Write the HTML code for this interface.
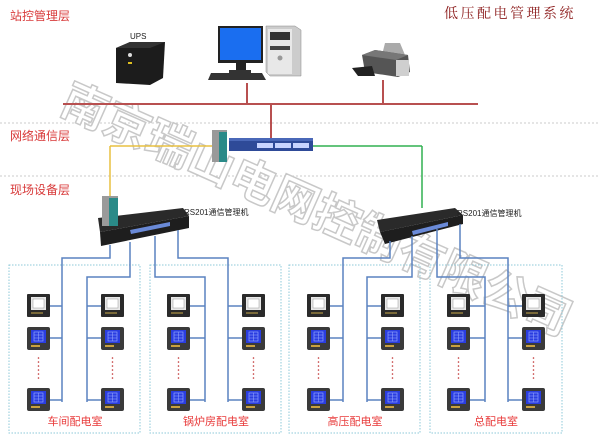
<!DOCTYPE html>
<html><head><meta charset="utf-8"><style>
html,body{margin:0;padding:0;background:#fff;}
svg{display:block;}
text{font-family:"Liberation Sans","Noto Sans CJK SC",sans-serif;}
</style></head><body>
<svg width="600" height="443" viewBox="0 0 600 443" xmlns="http://www.w3.org/2000/svg">
<defs>
<g id="m1">
  <rect x="0" y="0" width="23" height="23" rx="1" fill="#2a2a2a"/>
  <rect x="4" y="3" width="15" height="13" fill="#e8e8e8"/>
  <rect x="6" y="5" width="11" height="9" fill="#fff" stroke="#999" stroke-width="0.5"/>
  <rect x="4" y="18" width="12" height="2" fill="#7a6a3a"/>
</g>
<g id="m2">
  <rect x="0" y="0" width="23" height="23" rx="2" fill="#3a3a3a"/>
  <rect x="4" y="3" width="15" height="13" fill="#2a3de0"/>
  <rect x="7" y="5" width="9" height="9" fill="none" stroke="#9fb0ff" stroke-width="0.6"/>
  <line x1="11.5" y1="5" x2="11.5" y2="14" stroke="#9fb0ff" stroke-width="0.5"/>
  <line x1="7" y1="8" x2="16" y2="8" stroke="#9fb0ff" stroke-width="0.5"/>
  <line x1="7" y1="11" x2="16" y2="11" stroke="#9fb0ff" stroke-width="0.5"/>
  <rect x="4" y="18" width="9" height="2" fill="#c8a040"/>
</g>
<g id="dots" fill="#c03030">
  <circle cx="0" cy="0" r="0.8"/><circle cx="0" cy="4" r="0.8"/><circle cx="0" cy="8" r="0.8"/><circle cx="0" cy="12" r="0.8"/><circle cx="0" cy="16" r="0.8"/><circle cx="0" cy="20" r="0.8"/>
</g>
<g id="col">
  <use href="#m1" x="0" y="0"/>
  <use href="#m2" x="0" y="33"/>
  <use href="#dots" x="11.5" y="64"/>
  <use href="#m2" x="0" y="94"/>
</g>
</defs>

<!-- layer separators -->
<line x1="0" y1="123" x2="600" y2="123" stroke="#bbb" stroke-width="0.8" stroke-dasharray="2,2"/>
<line x1="0" y1="176" x2="600" y2="176" stroke="#bbb" stroke-width="0.8" stroke-dasharray="2,2"/>

<text x="10" y="20" font-size="12" fill="#d83a3a">站控管理层</text>
<text x="10" y="140" font-size="12" fill="#d83a3a">网络通信层</text>
<text x="10" y="194" font-size="12" fill="#d83a3a">现场设备层</text>
<text x="444" y="18" font-size="14" fill="#8b1a1a" letter-spacing="2.5" style="font-family:'Noto Serif CJK SC',serif">低压配电管理系统</text>

<!-- watermark -->
<text x="58" y="112" font-size="46" font-weight="bold" fill="#fff" stroke="#c8c8c8" stroke-width="1.5" transform="rotate(24 58 112)">南京瑞山电网控制有限公司</text>

<!-- red bus -->
<g stroke="#b85050" stroke-width="2">
<line x1="63" y1="104" x2="478" y2="104"/>
<line x1="247" y1="83" x2="247" y2="104"/>
<line x1="383" y1="80" x2="383" y2="104"/>
<line x1="271" y1="104" x2="271" y2="141"/>
</g>

<!-- UPS -->
<text x="130" y="39" font-size="8" fill="#222">UPS</text>
<polygon points="116,48 130,42 165,42 163,78 150,85 116,83" fill="#1c1c1c"/>
<polygon points="116,48 130,42 165,42 150,48" fill="#333"/>
<circle cx="130" cy="55" r="2" fill="#ddd"/>
<rect x="128" y="62" width="4" height="2" fill="#e0c020"/>

<!-- PC -->
<rect x="218" y="26" width="45" height="37" fill="#222"/>
<rect x="220" y="28" width="41" height="32" fill="#1a6ef0"/>
<rect x="236" y="63" width="10" height="8" fill="#222"/>
<rect x="229" y="70" width="22" height="3" fill="#333"/>
<polygon points="211,73 262,73 266,80 208,80" fill="#333"/>
<polygon points="266,26 295,26 301,30 301,76 270,76 266,72" fill="#ccc" stroke="#888" stroke-width="0.5"/>
<rect x="268" y="29" width="24" height="45" fill="#e8e8e8"/>
<rect x="270" y="32" width="20" height="8" fill="#333"/>
<rect x="270" y="46" width="20" height="4" fill="#444"/>
<circle cx="280" cy="58" r="2.5" fill="#999"/>

<!-- Printer -->
<polygon points="385,43 400,43 405,55 382,55" fill="#aaa"/>
<polygon points="362,55 375,50 408,55 410,72 398,77 365,72" fill="#555"/>
<polygon points="362,55 375,50 408,55 396,60" fill="#777"/>
<polygon points="352,68 372,66 375,76 358,76" fill="#222"/>
<rect x="396" y="60" width="13" height="16" fill="#cfcfcf"/>

<!-- network -->
<line x1="212" y1="146" x2="110" y2="146" stroke="#e8c040" stroke-width="1.5"/>
<line x1="110" y1="146" x2="110" y2="199" stroke="#e8c040" stroke-width="1.5"/>
<line x1="313" y1="146" x2="422" y2="146" stroke="#30b050" stroke-width="1.5"/>
<line x1="422" y1="146" x2="422" y2="208" stroke="#30b050" stroke-width="1.5"/>
<rect x="229" y="140" width="84" height="11" fill="#2e4a98"/>
<rect x="229" y="138" width="84" height="3" fill="#4a68b8"/>
<g fill="#c8d4ff">
<rect x="257" y="143" width="16" height="5"/><rect x="275" y="143" width="16" height="5"/><rect x="293" y="143" width="16" height="5"/>
</g>
<rect x="212" y="130" width="15" height="32" fill="#999"/>
<rect x="219" y="132" width="8" height="30" fill="#2a8a88"/>

<!-- left manager -->
<polygon points="98,218 183,208 189,216 100,232" fill="#2a2a2a"/>
<polygon points="100,232 189,216 189,228 101,246" fill="#1e1e1e"/>
<polygon points="130,230 170,222 170,226 131,234" fill="#6a8ad8"/>
<rect x="102" y="196" width="16" height="30" fill="#9a9a9a"/>
<rect x="109" y="198" width="9" height="28" fill="#2a8a88"/>
<text x="184" y="215" font-size="8" fill="#222">RS201通信管理机</text>

<!-- right manager -->
<polygon points="377,220 455,208 463,215 380,232" fill="#2a2a2a"/>
<polygon points="380,232 463,215 463,224 385,244" fill="#1e1e1e"/>
<polygon points="412,231 448,222 448,226 413,235" fill="#6a8ad8"/>
<text x="457" y="216" font-size="8" fill="#222">RS201通信管理机</text>

<!-- room boxes -->
<g fill="none" stroke="#8cc8d8" stroke-width="1" stroke-dasharray="1.5,1.5">
<rect x="9" y="265" width="131" height="168"/>
<rect x="150" y="265" width="131" height="168"/>
<rect x="289" y="265" width="131" height="168"/>
<rect x="430" y="265" width="132" height="168"/>
</g>

<!-- blue buses -->
<g fill="none" stroke="#5a82c0" stroke-width="1.5">
<polyline points="110,245 110,258 62,258 62,402"/>
<polyline points="130,242 130,277 87,277 87,402"/>
<polyline points="155,236 155,277 205,277 205,402"/>
<polyline points="178,230 178,258 228,258 228,402"/>
<polyline points="390,241 390,258 343,258 343,402"/>
<polyline points="412,236 412,277 367,277 367,402"/>
<polyline points="437,229 437,277 485,277 485,402"/>
<polyline points="460,224 460,258 508,258 508,402"/>
</g>
<!-- stubs -->
<g stroke="#5a82c0" stroke-width="1.5">
<line x1="50" y1="306" x2="62" y2="306"/><line x1="50" y1="338" x2="62" y2="338"/><line x1="50" y1="400" x2="62" y2="400"/>
<line x1="87" y1="306" x2="101" y2="306"/><line x1="87" y1="338" x2="101" y2="338"/><line x1="87" y1="400" x2="101" y2="400"/>
<line x1="190" y1="306" x2="205" y2="306"/><line x1="190" y1="338" x2="205" y2="338"/><line x1="190" y1="400" x2="205" y2="400"/>
<line x1="228" y1="306" x2="242" y2="306"/><line x1="228" y1="338" x2="242" y2="338"/><line x1="228" y1="400" x2="242" y2="400"/>
<line x1="330" y1="306" x2="343" y2="306"/><line x1="330" y1="338" x2="343" y2="338"/><line x1="330" y1="400" x2="343" y2="400"/>
<line x1="367" y1="306" x2="381" y2="306"/><line x1="367" y1="338" x2="381" y2="338"/><line x1="367" y1="400" x2="381" y2="400"/>
<line x1="470" y1="306" x2="485" y2="306"/><line x1="470" y1="338" x2="485" y2="338"/><line x1="470" y1="400" x2="485" y2="400"/>
<line x1="508" y1="306" x2="522" y2="306"/><line x1="508" y1="338" x2="522" y2="338"/><line x1="508" y1="400" x2="522" y2="400"/>
</g>

<!-- devices -->
<use href="#col" x="27" y="294"/>
<use href="#col" x="101" y="294"/>
<use href="#col" x="167" y="294"/>
<use href="#col" x="242" y="294"/>
<use href="#col" x="307" y="294"/>
<use href="#col" x="381" y="294"/>
<use href="#col" x="447" y="294"/>
<use href="#col" x="522" y="294"/>

<g font-size="11" fill="#e83a3a" text-anchor="middle">
<text x="75" y="425">车间配电室</text>
<text x="216" y="425">锅炉房配电室</text>
<text x="355" y="425">高压配电室</text>
<text x="496" y="425">总配电室</text>
</g>
</svg>
</body></html>
